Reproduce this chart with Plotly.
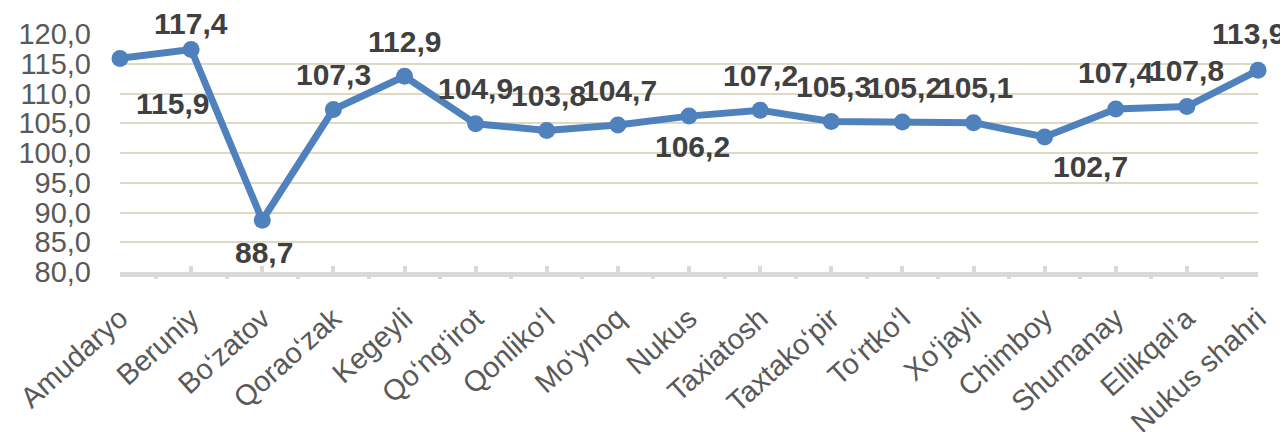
import plotly.graph_objects as go

categories = ["Amudaryo", "Beruniy", "Bo\u2018zatov", "Qorao\u2018zak", "Kegeyli", "Qo\u2018ng\u2018irot",
              "Qonliko\u2018l", "Mo\u2018ynoq", "Nukus", "Taxiatosh", "Taxtako\u2018pir", "To\u2018rtko\u2018l",
              "Xo\u2018jayli", "Chimboy", "Shumanay", "Ellikqal\u2019a", "Nukus shahri"]
values = [115.9, 117.4, 88.7, 107.3, 112.9, 104.9, 103.8, 104.7, 106.2, 107.2, 105.3, 105.2,
          105.1, 102.7, 107.4, 107.8, 113.9]
y_ticks = [80, 85, 90, 95, 100, 105, 110, 115, 120]

# label placement style (pixel offsets: dx, dy) per point
label_offsets = [(52, -45), (0, 26), (2, -32), (0, 35), (0, 35), (0, 35), (2, 35), (2, 35),
                 (3, -30), (0, 35), (2, 35), (2, 35), (2, 35), (46, -30), (0, 36), (0, 36), (-10, 37)]

BLUE = "#4F81BD"
FONT = "Liberation Sans, Arial, sans-serif"

fig = go.Figure()
fig.add_trace(go.Scatter(
    x=categories, y=values, mode="lines+markers",
    line=dict(color=BLUE, width=7),
    marker=dict(color=BLUE, size=17),
    cliponaxis=False, hoverinfo="skip", showlegend=False,
))
# helper trace for boundary ticks axis
fig.add_trace(go.Scatter(x=[0, len(categories) - 1], y=[None, None], xaxis="x2",
                         mode="markers", showlegend=False, hoverinfo="skip"))

for c, v, (dx, dy) in zip(categories, values, label_offsets):
    fig.add_annotation(
        x=c, y=v, text=f"{v:.1f}".replace(".", ","), showarrow=False,
        xshift=dx, yshift=dy, xanchor="center", yanchor="middle",
        font=dict(family=FONT, size=30, color="#404040", weight="bold"),
    )

n = len(categories)
# page body has an 8px default margin, so the figure is 8px smaller each way
fig.update_layout(
    template="none",
    width=1280, height=424,
    margin=dict(l=112, r=30, t=26, b=160, autoexpand=False),
    paper_bgcolor="white", plot_bgcolor="white",
    separators=", ",
    xaxis=dict(
        type="category", range=[0, n - 1], automargin=False,
        showgrid=False, zeroline=False,
        showline=True, linecolor="#D9D9D9", linewidth=5,
        ticks="inside", ticklen=6, tickwidth=4, tickcolor="#D9D9D9",
        tickangle=-42, ticklabelstandoff=13,
        tickfont=dict(family=FONT, size=29, color="#595959"),
    ),
    xaxis2=dict(
        overlaying="x", anchor="y", side="bottom", range=[0, n - 1], automargin=False,
        tickvals=[i + 0.5 for i in range(n - 1)],
        ticks="outside", ticklen=6, tickwidth=4, tickcolor="#D9D9D9",
        showticklabels=False, showgrid=False, zeroline=False, showline=False,
    ),
    yaxis=dict(
        range=[80, 120], tickvals=y_ticks, tickformat=".1f", automargin=False,
        showgrid=True, gridcolor="#DDD9C4", gridwidth=2,
        zeroline=False, showline=False, ticks="",
        ticklabelstandoff=28,
        tickfont=dict(family=FONT, size=29, color="#595959"),
    ),
)

fig.write_html("out.html")
